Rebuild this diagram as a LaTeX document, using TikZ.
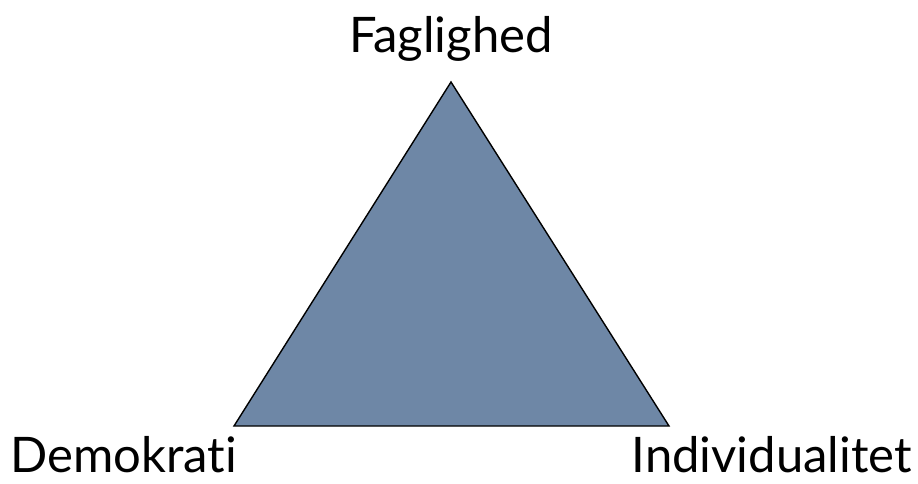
\documentclass[tikz,border=0pt]{standalone}
\usepackage{fontspec}
\setmainfont[Ligatures=NoCommon]{Lato}
\usepackage{xcolor}
\usepackage{tikz}
\definecolor{slateblue}{RGB}{110,135,166}

\begin{document}
\begin{tikzpicture}[
    x=1pt, y=-1pt,
    corner/.style={font=\fontsize{49}{56}\selectfont, inner sep=0pt},
    triangle/.style={draw=black, line width=1.4pt, fill=slateblue, line join=miter}
]
\useasboundingbox (0,0) rectangle (918,483);
\coordinate (top)   at (451,82);
\coordinate (left)  at (234,426);
\coordinate (right) at (669,426);
\draw[triangle] (top) -- (left) -- (right) -- cycle;

\node[corner, anchor=base] (fag) at (451,52) {Faglighed};
\node[corner, anchor=base west] (demo) at (10,472) {Demokrati};
\node[corner, anchor=base east] (indi) at (912,472) {Individualitet};
\end{tikzpicture}
\end{document}
